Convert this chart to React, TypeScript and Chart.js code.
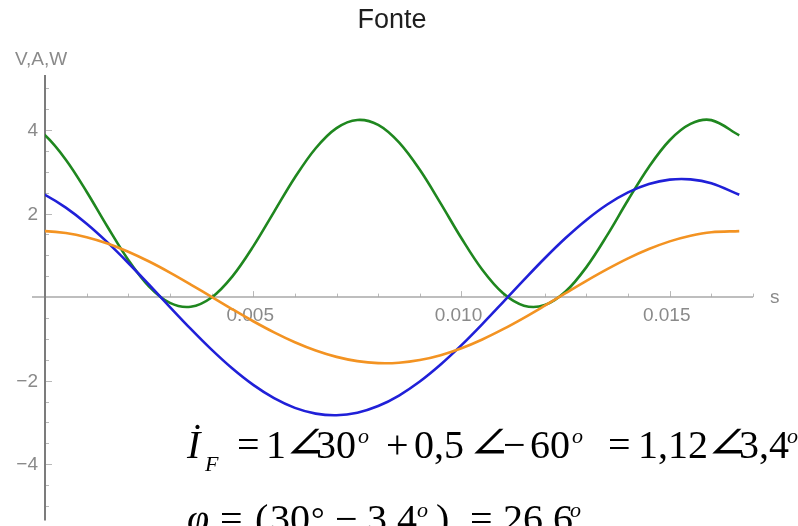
import React, { useEffect, useRef } from "react";
import { Chart, registerables } from "chart.js";

Chart.register(...registerables);

// Sample instants over one 60 Hz period (seconds); the first one lies just
// before the origin so the curves leave the axis with the right slope.
const times = [
  -0.0005, 0, 0.0005, 0.001, 0.0015, 0.002, 0.0025, 0.003, 0.0035, 0.004, 0.0045,
  0.005, 0.0055, 0.006, 0.0065, 0.007, 0.0075, 0.008, 0.0085, 0.009, 0.0095,
  0.01, 0.0105, 0.011, 0.0115, 0.012, 0.0125, 0.013, 0.0135, 0.014, 0.0145,
  0.015, 0.0155, 0.016, 0.01667,
];

// Source voltage (V)
const voltage = [
  2.673, 2.451, 2.142, 1.758, 1.311, 0.818, 0.296, -0.237, -0.761, -1.258, -1.711,
  -2.103, -2.421, -2.653, -2.79, -2.829, -2.768, -2.609, -2.357, -2.022, -1.615,
  -1.151, -0.646, -0.119, 0.413, 0.931, 1.415, 1.849, 2.218, 2.508, 2.709,
  2.814, 2.82, 2.726, 2.451,
];

// Source current (A)
const current = [
  1.571, 1.581, 1.536, 1.436, 1.285, 1.088, 0.853, 0.588, 0.302, 0.006, -0.291,
  -0.578, -0.844, -1.08, -1.278, -1.431, -1.533, -1.581, -1.572, -1.508, -1.391,
  -1.224, -1.014, -0.768, -0.495, -0.204, 0.094, 0.389, 0.669, 0.927, 1.151,
  1.335, 1.471, 1.555, 1.581,
];

// Instantaneous power (W)
const power = [
  4.199, 3.875, 3.29, 2.524, 1.685, 0.89, 0.252, -0.139, -0.23, -0.008, 0.498,
  1.216, 2.043, 2.865, 3.566, 4.048, 4.243, 4.125, 3.705, 3.049, 2.246,
  1.409, 0.655, 0.091, -0.204, -0.19, 0.133, 0.719, 1.484, 2.325, 3.118,
  3.757, 4.148, 4.239, 3.875,
];

const xMajorTicks = [0.005, 0.01, 0.015];
const xTickLabels = ["0.005", "0.010", "0.015"];
const yMajorTicks = [4, 2, -2, -4];
const yTickLabels = ["4", "2", "\u22122", "\u22124"];

const chartTitle = "Fonte";
const yAxisTitle = "V,A,W";
const xAxisTitle = "s";

const SANS = "'Liberation Sans', Arial, sans-serif";
const SERIF = "'Liberation Serif', 'DejaVu Serif', serif";
const ANGLE_FONT = "'DejaVu Sans', 'DejaVu Serif', sans-serif";

type Tok = { t: string; x: number; y: number; size: number; italic?: boolean; angle?: boolean };

// Phasor sum and phase angle written beneath the plot
const equationTokens: Tok[] = [
  { t: "\u0130", x: 187, y: 458, size: 40, italic: true },
  { t: "F", x: 205, y: 471, size: 22, italic: true },
  { t: "=", x: 237, y: 458, size: 40 },
  { t: "1", x: 266, y: 458, size: 40 },
  { t: "\u2220", x: 283, y: 458, size: 44, angle: true },
  { t: "30", x: 316, y: 458, size: 40 },
  { t: "o", x: 358, y: 443, size: 22, italic: true },
  { t: "+", x: 386, y: 458, size: 40 },
  { t: "0,5", x: 414, y: 458, size: 40 },
  { t: "\u2220", x: 467, y: 458, size: 44, angle: true },
  { t: "\u2212", x: 503, y: 458, size: 40 },
  { t: "60", x: 530, y: 458, size: 40 },
  { t: "o", x: 572, y: 443, size: 22, italic: true },
  { t: "=", x: 608, y: 458, size: 40 },
  { t: "1,12", x: 638, y: 458, size: 40 },
  { t: "\u2220", x: 705, y: 458, size: 44, angle: true },
  { t: "3,4", x: 739, y: 458, size: 40 },
  { t: "o", x: 787, y: 443, size: 22, italic: true },

  { t: "\u03C6", x: 187, y: 532, size: 40, italic: true },
  { t: "=", x: 220, y: 532, size: 40 },
  { t: "(", x: 255, y: 532, size: 40 },
  { t: "30", x: 270, y: 532, size: 40 },
  { t: "\u00B0", x: 311, y: 530, size: 34 },
  { t: "\u2212", x: 335, y: 532, size: 40 },
  { t: "3,4", x: 367, y: 532, size: 40 },
  { t: "o", x: 417, y: 517, size: 22, italic: true },
  { t: ")", x: 436, y: 532, size: 40 },
  { t: "=", x: 470, y: 532, size: 40 },
  { t: "26,6", x: 503, y: 532, size: 40 },
  { t: "o", x: 570, y: 517, size: 22, italic: true },
];

const crossAxesPlugin = {
  id: "crossAxes",
  beforeDatasetsDraw(chart: any) {
    const { ctx, chartArea } = chart;
    const xs = chart.scales.x;
    const ys = chart.scales.y;
    const x0 = xs.getPixelForValue(0);
    const y0 = ys.getPixelForValue(0);
    ctx.save();

    // tick marks
    ctx.strokeStyle = "#b8b8b8";
    ctx.lineWidth = 1;
    for (let i = 1; i <= 17; i++) {
      const px = Math.round(xs.getPixelForValue(i * 0.001)) + 0.5;
      const len = i % 5 === 0 ? 6 : 3.5;
      ctx.beginPath();
      ctx.moveTo(px, y0);
      ctx.lineTo(px, y0 - len);
      ctx.stroke();
    }
    for (let i = -10; i <= 10; i++) {
      if (i === 0) continue;
      const py = Math.round(ys.getPixelForValue(i * 0.5)) + 0.5;
      const len = i % 4 === 0 ? 7 : 4;
      ctx.beginPath();
      ctx.moveTo(x0, py);
      ctx.lineTo(x0 + len, py);
      ctx.stroke();
    }

    // axes
    ctx.strokeStyle = "#a9a9a9";
    ctx.lineWidth = 1.5;
    ctx.beginPath();
    ctx.moveTo(x0 - 13, y0);
    ctx.lineTo(chartArea.right, y0);
    ctx.stroke();

    ctx.strokeStyle = "#7c7c7c";
    ctx.lineWidth = 2;
    ctx.beginPath();
    ctx.moveTo(x0, chartArea.top);
    ctx.lineTo(x0, chartArea.bottom);
    ctx.stroke();

    // tick labels
    ctx.fillStyle = "#8a8a8a";
    ctx.font = `19px ${SANS}`;
    ctx.textAlign = "center";
    ctx.textBaseline = "top";
    xMajorTicks.forEach((v, i) => {
      ctx.fillText(xTickLabels[i], xs.getPixelForValue(v) - 3, y0 + 9);
    });
    ctx.textAlign = "right";
    ctx.textBaseline = "middle";
    yMajorTicks.forEach((v, i) => {
      ctx.fillText(yTickLabels[i], x0 - 7, ys.getPixelForValue(v) + 1);
    });

    // axis names
    ctx.textAlign = "left";
    ctx.textBaseline = "middle";
    ctx.fillText(xAxisTitle, chartArea.right + 17, y0 + 1);
    ctx.textBaseline = "alphabetic";
    ctx.fillText(yAxisTitle, 15, 65);

    // title
    ctx.fillStyle = "#1e1e1e";
    ctx.font = `27px ${SANS}`;
    ctx.textAlign = "center";
    ctx.fillText(chartTitle, 392, 28);
    ctx.restore();
  },
  afterDraw(chart: any) {
    const { ctx } = chart;
    ctx.save();
    ctx.fillStyle = "#000";
    ctx.textAlign = "left";
    ctx.textBaseline = "alphabetic";
    equationTokens.forEach((tk) => {
      if (tk.angle) {
        // angle sign is set a little wider than the font draws it
        ctx.save();
        ctx.font = `200 ${tk.size}px ${ANGLE_FONT}`;
        ctx.translate(tk.x, tk.y);
        ctx.scale(1.2, 1);
        ctx.fillText(tk.t, 0, 0);
        ctx.restore();
      } else {
        ctx.font = `${tk.italic ? "italic " : ""}${tk.size}px ${SERIF}`;
        ctx.fillText(tk.t, tk.x, tk.y);
      }
    });
    ctx.restore();
  },
};

const toPoints = (vals: number[]) => vals.map((v, i) => ({ x: times[i], y: v }));

export default function App() {
  const canvasRef = useRef<HTMLCanvasElement | null>(null);

  useEffect(() => {
    if (!canvasRef.current) return;
    const line = (label: string, vals: number[], color: string) => ({
      label,
      data: toPoints(vals),
      borderColor: color,
      backgroundColor: color,
      borderWidth: 2.6,
      pointRadius: 0,
      fill: false,
      tension: 0.35,
    });
    const chart = new Chart(canvasRef.current, {
      type: "line",
      data: {
        datasets: [
          line("i(t)", current, "#f39322"),
          line("v(t)", voltage, "#2020d8"),
          line("p(t)", power, "#1f871f"),
        ],
      },
      options: {
        animation: false,
        responsive: false,
        maintainAspectRatio: false,
        layout: { padding: { left: 45, right: 45, top: 75, bottom: 5.5 } },
        scales: {
          x: { type: "linear", min: 0, max: 0.017, display: false },
          y: { type: "linear", min: -5.35, max: 5.32, display: false },
        },
        plugins: {
          legend: { display: false },
          tooltip: { enabled: false },
          title: { display: false },
        },
      },
      plugins: [crossAxesPlugin],
    });
    return () => chart.destroy();
  }, []);

  return (
    <div
      style={{
        position: "fixed",
        left: 0,
        top: 0,
        width: 798,
        height: 526,
        overflow: "hidden",
        background: "#fff",
      }}
    >
      <canvas ref={canvasRef} width={798} height={526} style={{ display: "block" }} />
    </div>
  );
}
